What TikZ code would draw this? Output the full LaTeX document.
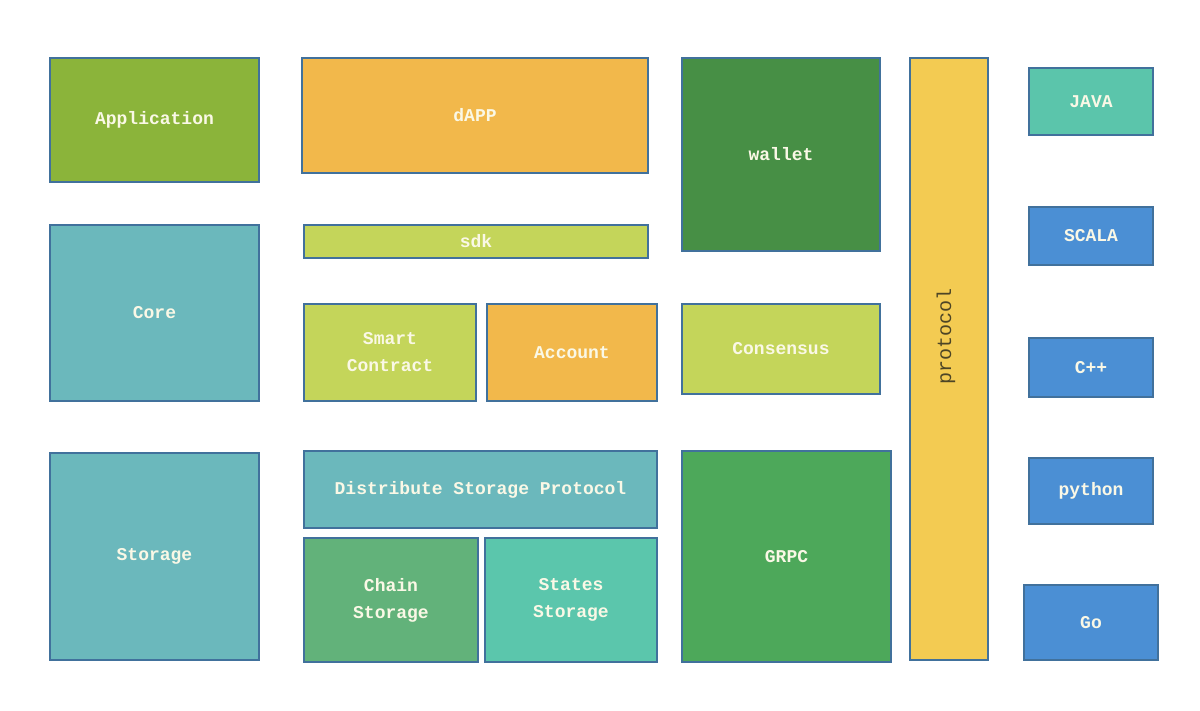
\documentclass[tikz,border=0pt]{standalone}
\usepackage{fontspec}
\setmonofont{Liberation Mono}
\begin{document}
\begin{tikzpicture}[x=1pt,y=-1pt,
  blk/.style={draw=bordc, line width=1.6pt, inner sep=0pt, outer sep=0pt,
    text=txtc, font=\ttfamily\bfseries\fontsize{18}{27}\selectfont, align=center},
]
\definecolor{bordc}{HTML}{41719C}
\definecolor{txtc}{HTML}{FAF8E6}
\definecolor{cApp}{HTML}{8BB43A}
\definecolor{cOrange}{HTML}{F2B84B}
\definecolor{cWallet}{HTML}{478F45}
\definecolor{cProto}{HTML}{F3CB52}
\definecolor{cJava}{HTML}{5BC5AB}
\definecolor{cBlue}{HTML}{4B8FD4}
\definecolor{cCore}{HTML}{6BB8BC}
\definecolor{cLime}{HTML}{C4D55A}
\definecolor{cChain}{HTML}{62B27A}
\definecolor{cStates}{HTML}{5BC6AC}
\definecolor{cGrpc}{HTML}{4DA85A}
\definecolor{protoTxt}{HTML}{4D4526}
\newcommand{\blk}[7]{%
  \node[blk, fill=#6, minimum width={#4-#2}, minimum height={#5-#3}]
    (#1) at ({(#2+#4)/2},{(#3+#5)/2}) {#7};}
\fill[white] (0,0) rectangle (1200,710);
\useasboundingbox (0,0) rectangle (1200,710);
\blk{app}{50}{58}{259}{182}{cApp}{Application}
\blk{dapp}{302}{58}{648}{173}{cOrange}{dAPP}
\blk{wallet}{682}{58}{880}{251}{cWallet}{wallet}
\blk{protocol}{910}{58}{988}{660}{cProto}{}
\node[rotate=90, text=protoTxt, font=\ttfamily\fontsize{20}{24}\selectfont] (protolbl) at (946,336) {protocol};
\blk{java}{1029}{68}{1153}{135}{cJava}{JAVA}
\blk{scala}{1029}{207}{1153}{265}{cBlue}{SCALA}
\blk{cpp}{1029}{338}{1153}{397}{cBlue}{C++}
\blk{python}{1029}{458}{1153}{524}{cBlue}{python}
\blk{go}{1024}{585}{1158}{660}{cBlue}{Go}
\blk{core}{50}{225}{259}{401}{cCore}{Core}
\blk{storage}{50}{453}{259}{660}{cCore}{Storage}
\blk{sdk}{304}{225}{648}{258}{cLime}{sdk}
\blk{smart}{304}{304}{476}{401}{cLime}{Smart\\Contract}
\blk{account}{487}{304}{657}{401}{cOrange}{Account}
\blk{consensus}{682}{304}{880}{394}{cLime}{Consensus}
\blk{dsp}{304}{451}{657}{528}{cCore}{Distribute Storage Protocol}
\blk{chain}{304}{538}{478}{662}{cChain}{Chain\\Storage}
\blk{states}{485}{538}{657}{662}{cStates}{States\\Storage}
\blk{grpc}{682}{451}{891}{662}{cGrpc}{GRPC}
\end{tikzpicture}
\end{document}
